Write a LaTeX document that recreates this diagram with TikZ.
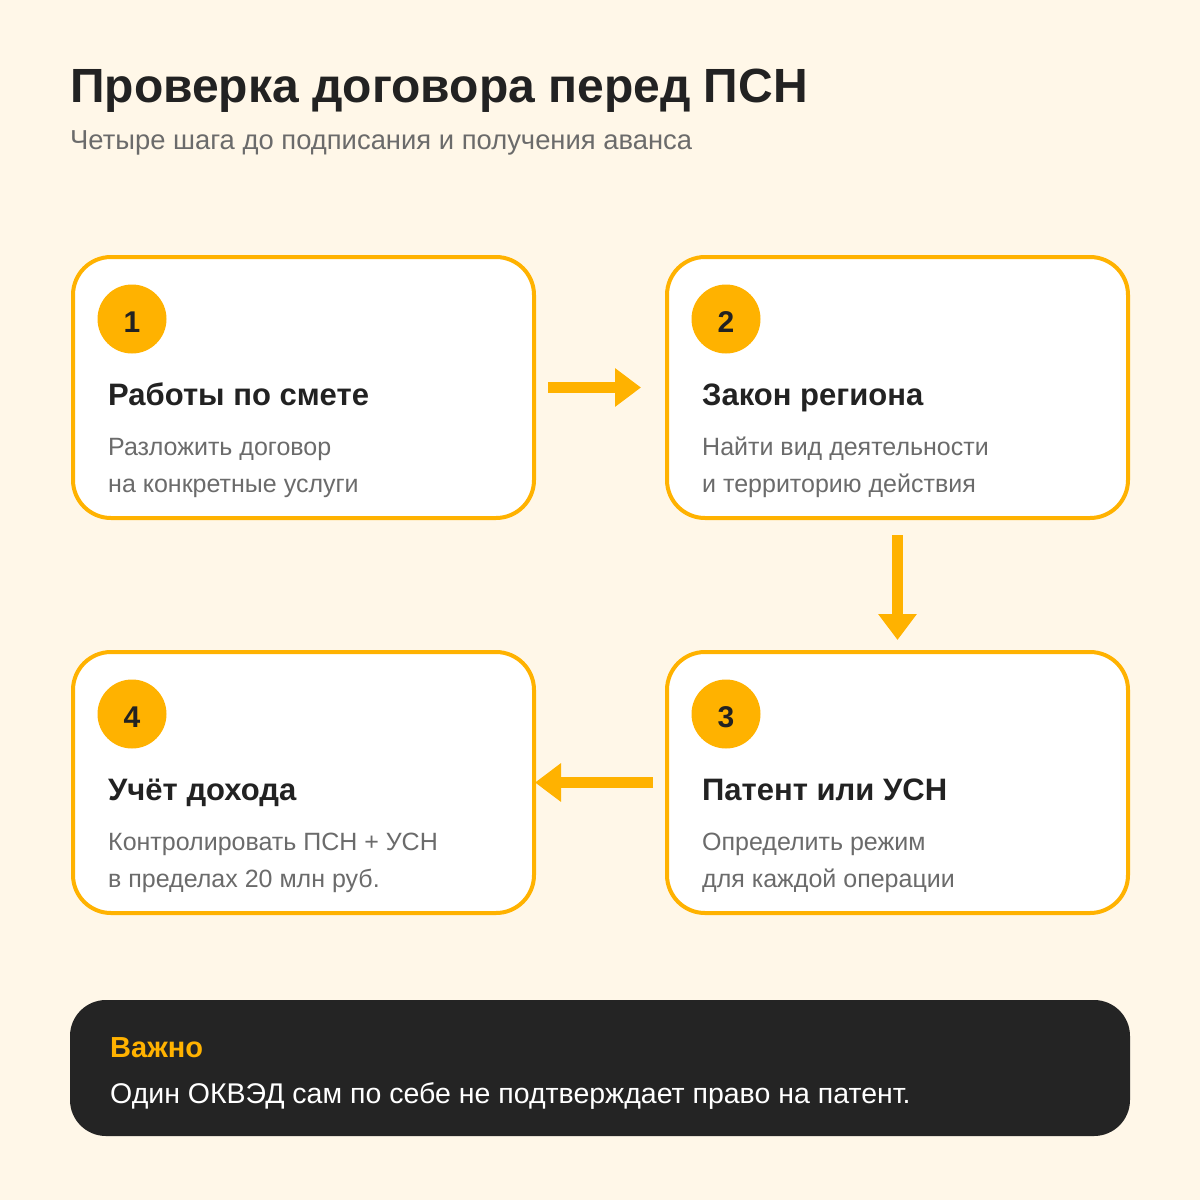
\documentclass[tikz,border=0pt]{standalone}
\usepackage{fontspec}
\setmainfont{Liberation Sans}
\usetikzlibrary{positioning}
\usetikzlibrary{arrows.meta}
\definecolor{accent}{RGB}{255,178,0}
\definecolor{paper}{RGB}{255,247,232}
\definecolor{ink}{RGB}{34,34,34}
\definecolor{muted}{RGB}{107,107,107}
\definecolor{panel}{RGB}{36,36,36}
\tikzstyle{card} = [draw=accent, line width=4pt, fill=white, rectangle, rounded corners=38pt, minimum width=461pt, minimum height=261pt, inner sep=0pt, outer sep=0pt]
\tikzstyle{badge} = [circle, fill=accent, minimum size=69pt, inner sep=0pt, text height=27.5pt, text depth=0pt, text=ink, font=\bfseries\fontsize{30pt}{30pt}\selectfont]
\tikzstyle{head} = [anchor=base west, inner sep=0pt, text=ink, font=\bfseries\fontsize{31pt}{31pt}\selectfont]
\tikzstyle{body} = [anchor=base west, inner sep=0pt, text=muted, font=\fontsize{25pt}{25pt}\selectfont]
\tikzstyle{flow} = [draw=accent, line width=11pt, -{Triangle[length=26pt,width=37pt]}]

\begin{document}
\begin{tikzpicture}[x=1pt,y=-1pt,node distance=133pt]
    \fill [paper] (0,0) rectangle (1200,1200);
    \useasboundingbox (0,0) rectangle (1200,1200);

    \node [anchor=base west, inner sep=0pt, text=ink, font=\bfseries\fontsize{48pt}{48pt}\selectfont] (title) at (70,102) {Проверка договора перед ПСН};
    \node [anchor=base west, inner sep=0pt, text=muted, font=\fontsize{27.4pt}{27.4pt}\selectfont] (subtitle) at (70,149) {Четыре шага до подписания и получения аванса};

    \node [card] (s1) at (303.5,387.5) {};
    \node [card, right=of s1] (s2) {};
    \node [card, below=134pt of s2] (s3) {};
    \node [card, left=of s3] (s4) {};

    % step 1
    \node [badge] (b1) at ([shift={(59,62)}]s1.north west) {1};
    \node [head] (h1) at ([shift={(35,148)}]s1.north west) {Работы по смете};
    \node [body] (t1a) at ([shift={(35,198)}]s1.north west) {Разложить договор};
    \node [body] (t1b) at ([shift={(35,235)}]s1.north west) {на конкретные услуги};
    % step 2
    \node [badge] (b2) at ([shift={(59,62)}]s2.north west) {2};
    \node [head] (h2) at ([shift={(35,148)}]s2.north west) {Закон региона};
    \node [body] (t2a) at ([shift={(35,198)}]s2.north west) {Найти вид деятельности};
    \node [body] (t2b) at ([shift={(35,235)}]s2.north west) {и территорию действия};
    % step 3
    \node [badge] (b3) at ([shift={(59,62)}]s3.north west) {3};
    \node [head] (h3) at ([shift={(35,148)}]s3.north west) {Патент или УСН};
    \node [body] (t3a) at ([shift={(35,198)}]s3.north west) {Определить режим};
    \node [body] (t3b) at ([shift={(35,235)}]s3.north west) {для каждой операции};
    % step 4
    \node [badge] (b4) at ([shift={(59,62)}]s4.north west) {4};
    \node [head] (h4) at ([shift={(35,148)}]s4.north west) {Учёт дохода};
    \node [body] (t4a) at ([shift={(35,198)}]s4.north west) {Контролировать ПСН + УСН};
    \node [body] (t4b) at ([shift={(35,235)}]s4.north west) {в пределах 20 млн руб.};

    \draw [flow, shorten <=14pt, shorten >=26pt] (s1.east) -- (s2.west);
    \draw [flow, shorten <=17pt, shorten >=12pt] (s2.south) -- (s3.north);
    \draw [flow, shorten <=14pt, shorten >=1pt] (s3.west) -- (s4.east);

    \node [fill=panel, rectangle, rounded corners=36pt, minimum width=1060pt, minimum height=136pt, inner sep=0pt] (note) at (600,1068) {};
    \node [anchor=base west, inner sep=0pt, text=accent, font=\bfseries\fontsize{29pt}{29pt}\selectfont] (warn) at (110,1057) {Важно};
    \node [anchor=base west, inner sep=0pt, text=white, font=\fontsize{28.5pt}{28.5pt}\selectfont] (warntext) at (110,1103) {Один ОКВЭД сам по себе не подтверждает право на патент.};
\end{tikzpicture}
\end{document}
